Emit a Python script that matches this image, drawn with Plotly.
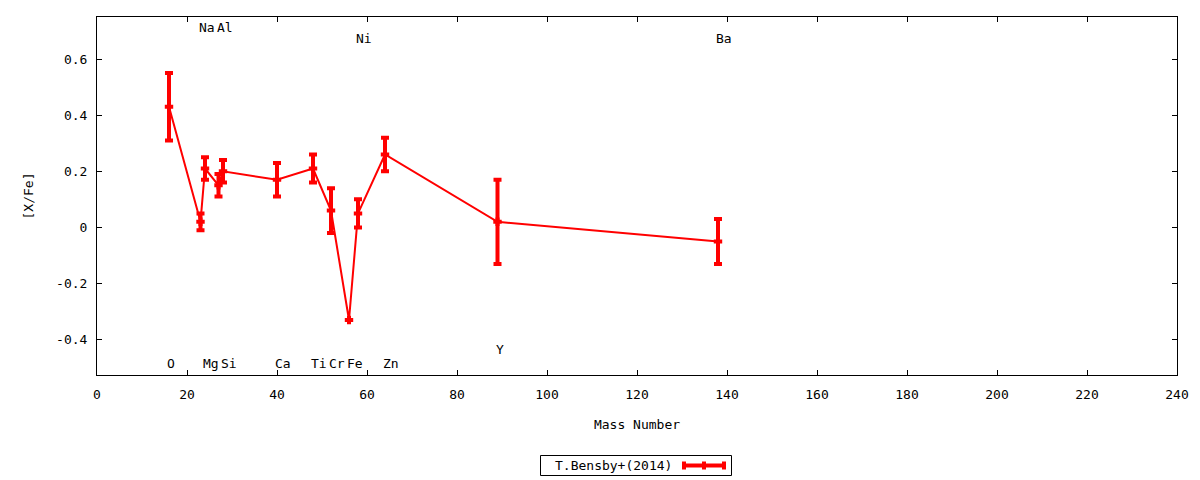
import plotly.graph_objects as go

elements = ["O", "Na", "Mg", "Al", "Si", "Ca", "Ti", "Cr", "Fe", "Ni", "Zn", "Y", "Ba"]
mass_number = [16, 23, 24, 27, 28, 40, 48, 52, 56, 58, 64, 89, 138]
x_fe = [0.43, 0.02, 0.21, 0.15, 0.20, 0.17, 0.21, 0.06, -0.33, 0.05, 0.26, 0.02, -0.05]
x_fe_err = [0.12, 0.03, 0.04, 0.04, 0.04, 0.06, 0.05, 0.08, 0.0, 0.05, 0.06, 0.15, 0.08]
label_y = [-0.486, 0.711, -0.486, 0.711, -0.486, -0.486, -0.486, -0.486, -0.486, 0.675, -0.486, -0.436, 0.675]

x_ticks = list(range(0, 241, 20))
y_ticks = [-0.4, -0.2, 0, 0.2, 0.4, 0.6]
y_tick_text = ["-0.4", "-0.2", "0", "0.2", "0.4", "0.6"]
legend_name = "T.Bensby+(2014)"

FONT = "DejaVu Sans Mono"
FS = 13
RED = "#ff0000"

fig = go.Figure()
fig.add_trace(go.Scatter(
    x=mass_number, y=x_fe,
    mode="lines+markers",
    name=legend_name,
    showlegend=False,
    line=dict(color=RED, width=2),
    marker=dict(symbol="cross-thin", size=6, color=RED, line=dict(color=RED, width=4)),
    error_y=dict(type="data", array=x_fe_err, visible=True, color=RED, thickness=4, width=4),
))

for el, m, ly in zip(elements, mass_number, label_y):
    fig.add_annotation(x=m, y=ly, xref="x", yref="y", text=el, showarrow=False,
                       xanchor="left", yanchor="middle", xshift=-4,
                       font=dict(family=FONT, size=FS, color="black"))

# custom legend (text left, sample right, boxed)
W, H = 1200, 480
L, R, T, B = 97, 23, 17, 105
pw, ph = W - L - R, H - T - B
def px(x):
    return (x - L) / pw
def py(y):
    return (H - B - y) / ph

fig.add_shape(type="rect", xref="paper", yref="paper",
              x0=px(540.5), x1=px(731.5), y0=py(475.5), y1=py(455.5),
              line=dict(color="black", width=1), fillcolor="white")
fig.add_annotation(xref="paper", yref="paper", x=px(553), y=py(465.5), text=legend_name,
                   showarrow=False, xanchor="left", yanchor="middle",
                   font=dict(family=FONT, size=FS, color="black"))
fig.add_shape(type="line", xref="paper", yref="paper",
              x0=px(682), x1=px(726), y0=py(465.5), y1=py(465.5),
              line=dict(color=RED, width=4))
for xt in (684, 704, 724):
    fig.add_shape(type="line", xref="paper", yref="paper",
                  x0=px(xt), x1=px(xt), y0=py(461.5), y1=py(469.5),
                  line=dict(color=RED, width=4))

axis_common = dict(showline=True, linecolor="black", linewidth=1, mirror="ticks",
                   ticks="inside", ticklen=5, tickcolor="black", tickwidth=1,
                   showgrid=False, zeroline=False,
                   tickfont=dict(family=FONT, size=FS, color="black"))

fig.update_xaxes(range=[0, 240], tickvals=x_ticks, ticktext=[str(v) for v in x_ticks],
                 ticklabelstandoff=7,
                 title=dict(text="Mass Number", font=dict(family=FONT, size=FS, color="black"), standoff=19),
                 **axis_common)
fig.update_yaxes(range=[-0.526, 0.75], tickvals=y_ticks, ticktext=y_tick_text,
                 ticklabelstandoff=6,
                 title=dict(text="[X/Fe]", font=dict(family=FONT, size=FS, color="black"), standoff=19),
                 **axis_common)

fig.update_layout(width=W, height=H, margin=dict(l=L, r=R, t=T, b=B, autoexpand=False),
                  plot_bgcolor="white", paper_bgcolor="white",
                  font=dict(family=FONT, size=FS, color="black"))

fig.write_html("out.html", config={"displayModeBar": False},
               post_script="document.body.style.margin='0';document.body.style.overflow='hidden';")
